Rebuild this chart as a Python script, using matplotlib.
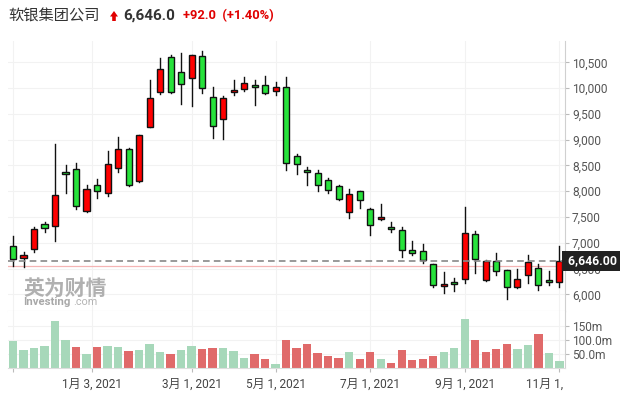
import numpy as np
import matplotlib.pyplot as plt
from matplotlib.patches import Rectangle, Polygon
from matplotlib.ticker import FuncFormatter, FixedLocator
from matplotlib.transforms import Bbox, TransformedBbox

plt.rcParams['font.family'] = ['Roboto', 'Noto Sans CJK SC', 'DejaVu Sans']

# weekly candles
opens = [6931, 6710, 6873, 7358, 7319, 8367, 8425, 7610, 8115, 7959, 8444, 8813, 8192,
         9251, 9919, 10598, 10307, 10190, 10617, 9822, 9407, 9919, 9977, 10055, 10055,
         9938, 10016, 8677, 8406, 8348, 8212, 8095, 7591, 7998, 7649, 7455, 7300, 7242,
         6854, 6834, 6582, 6155, 6240, 6291, 7164, 6272, 6640, 6466, 6136, 6369, 6504,
         6272, 6233]
highs = [7125, 6821, 7300, 7409, 8910, 8503, 8541, 8126, 8231, 8774, 9046, 8830, 9090,
         10152, 10578, 10637, 10675, 10648, 10714, 10016, 9847, 10152, 10210, 10152, 10229,
         10113, 10210, 8716, 8464, 8406, 8250, 8115, 8037, 8010, 7668, 7746, 7397, 7300,
         7028, 6970, 6590, 6427, 6322, 7694, 7222, 6660, 6795, 6480, 6485, 6757, 6582,
         6446, 6931]
lows = [6543, 6535, 6821, 7214, 7028, 7959, 7649, 7591, 7862, 7901, 8367, 8110, 8170,
        9240, 9880, 9905, 9686, 9659, 9899, 9026, 9007, 9861, 9950, 9667, 9880,
        9861, 8406, 8328, 8115, 7998, 7959, 7824, 7474, 7668, 7145, 7440, 7203, 6718,
        6757, 6601, 6136, 6019, 6070, 6213, 6407, 6252, 6369, 5903, 6116, 6213, 6078,
        6175, 6136]
closes = [6679, 6757, 7261, 7280, 7921, 8328, 7713, 8049, 7998, 8522, 8813, 8126, 9085,
          9802, 10365, 9919, 10074, 10637, 9996, 9259, 9802, 9958, 10093, 10016, 9899,
          10016, 8541, 8522, 8367, 8115, 8018, 7843, 7940, 7824, 7339, 7494, 7261, 6854,
          6795, 6660, 6175, 6194, 6200, 7183, 6679, 6640, 6446, 6136, 6291, 6621, 6175,
          6233, 6646]
volumes = [96, 63, 70, 78, 167, 100, 74, 48, 74, 78, 74, 59, 63, 85, 56, 48, 63, 78, 67,
           70, 70, 59, 37, 48, 33, 15, 100, 70, 85, 52, 41, 37, 56, 33, 56, 33, 18, 63,
           30, 33, 44, 56, 70, 174, 100, 56, 67, 85, 67, 81, 122, 52, 26]

tick_pos = [0, 7.55, 17, 25, 34, 43, 52]
tick_labels = ['', '1月 3, 2021', '3月 1, 2021', '5月 1, 2021', '7月 1, 2021',
               '9月 1, 2021', '11月 1, 2021']
last_price = 6646.0
prev_close = 6554.0

W, H = 623, 397
fig = plt.figure(figsize=(W / 100, H / 100), dpi=100)
fig.patch.set_facecolor('white')

ax = fig.add_axes([8 / W, (H - 311) / H, 557 / W, 270 / H])
axv = fig.add_axes([8 / W, (H - 368) / H, 557 / W, 57 / H], sharex=ax)

x = np.arange(len(opens))
up_col, dn_col = '#ff0000', '#27e23b'
bw = 0.58
for i in x:
    o, h, l, c = opens[i], highs[i], lows[i], closes[i]
    col = up_col if c > o else dn_col
    ax.plot([i, i], [l, h], color='#111111', lw=1.0, zorder=2)
    lo, hi = min(o, c), max(o, c)
    ax.add_patch(Rectangle((i - bw / 2, lo), bw, max(hi - lo, 25), facecolor=col,
                           edgecolor='#111111', lw=1.0, zorder=3))

# volume colours follow close vs previous close
vcols = []
for i in x:
    if i == 0 or closes[i] >= closes[i - 1]:
        vcols.append('#a7d8ba')
    else:
        vcols.append('#e06a6a')
axv.bar(x, volumes, width=0.8, color=vcols, zorder=2)

ax.set_xlim(-0.476, 52.54)
ax.set_ylim(5676, 10914)
axv.set_ylim(0, 202)

for a in (ax, axv):
    a.set_facecolor('white')
    for s in ('top', 'left'):
        a.spines[s].set_visible(False)
    a.spines['right'].set_color('#d0d0d0')
    a.spines['bottom'].set_color('#dddddd')
    a.yaxis.tick_right()
    a.tick_params(axis='y', length=3, color='#bbbbbb', labelsize=8.6,
                  labelcolor='#555555', pad=2)
    a.grid(True, color='#f2f2f2', lw=0.8, zorder=0)
    a.set_axisbelow(True)

ax.spines['bottom'].set_color('#e0e0e0')
ax.yaxis.set_major_locator(FixedLocator(np.arange(6000, 10501, 500)))
ax.yaxis.set_major_formatter(FuncFormatter(lambda v, p: f'{v:,.0f}'))
ax.tick_params(axis='x', length=0, labelbottom=False)

axv.set_yticks([50, 100, 150])
axv.set_yticklabels(['50.0m', '100.0m', '150m'])
axv.set_xticks(tick_pos)
axv.set_xticklabels(tick_labels)
axv.tick_params(axis='x', length=3, color='#bbbbbb', labelsize=8.6,
                labelcolor='#444444', pad=4)
ax.set_xticks(tick_pos)

clip = TransformedBbox(Bbox.from_extents(0, 0, 566 / W, 1), fig.transFigure)
for lab in axv.get_xticklabels():
    lab.set_clip_on(True)
    lab.set_clip_box(clip)

# current price and previous close lines
ax.axhline(last_price, color='#888888', lw=1.2, ls=(0, (4, 2.5)), zorder=4)
ax.axhline(prev_close, color='#f4b4b4', lw=0.9, zorder=1)
ax.text(1.0, last_price, f' {last_price:,.2f}', transform=ax.get_yaxis_transform(),
        ha='left', va='center', color='white', fontsize=8.8, fontweight='bold',
        bbox=dict(boxstyle='square,pad=0.25', fc='#222222', ec='none'), zorder=6,
        clip_on=False)

# watermark
ax.text(0.027, 0.085, '英为财情', transform=ax.transAxes, fontsize=15,
        fontweight='bold', color='#b0b0b0', family=['Noto Sans CJK SC'], va='center')
ax.text(0.028, 0.032, 'Investing', transform=ax.transAxes, fontsize=8.2,
        fontweight='bold', color='#a8a8a8', va='center')
ax.text(0.118, 0.032, '.com', transform=ax.transAxes, fontsize=7.8,
        color='#b4b4b4', va='center')

# header
fig.text(8 / W, 1 - 16 / H, '软银集团公司', fontsize=11, color='#333333',
         va='center', family=['Noto Sans CJK SC'])
arrow = [(110, 16.5), (114, 11), (118, 16.5), (115.8, 16.5), (115.8, 21),
         (112.2, 21), (112.2, 16.5)]
fig.patches.append(Polygon([(px / W, 1 - py / H) for px, py in arrow], closed=True,
                           transform=fig.transFigure, facecolor='#e00000',
                           edgecolor='none'))
fig.text(123 / W, 1 - 16 / H, '6,646.0', fontsize=11, color='#333333',
         fontweight='bold', va='center')
fig.text(183 / W, 1 - 16 / H, '+92.0  (+1.40%)', fontsize=9.3, color='#e00000',
         fontweight='bold', va='center')

fig.savefig('out.png', dpi=100, facecolor='white')
